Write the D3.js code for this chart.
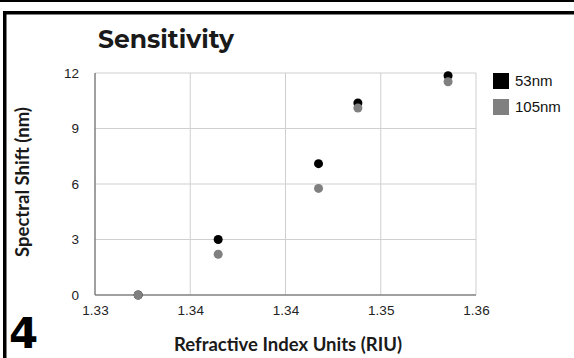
<!DOCTYPE html>
<html>
<head>
<meta charset="utf-8">
<script src="https://cdn.jsdelivr.net/npm/d3@7"></script>
<style>
  body { margin: 0; background: #fff; }
  svg { display: block; }
  .tick text { font-family: "Liberation Sans", Arial, sans-serif; font-size: 13.5px; fill: #222; }
</style>
</head>
<body>
<script>
// data
var seriesNames = ["53nm", "105nm"];
var seriesColors = ["#000000", "#808080"];
var riu = [1.3334, 1.3397, 1.3476, 1.3507, 1.3578];
var shift53 = [0, 3.0, 7.1, 10.38, 11.85];
var shift105 = [0, 2.2, 5.76, 10.11, 11.53];
var xTicks = [1.33, 1.3375, 1.345, 1.3525, 1.36];
var yTicks = [0, 3, 6, 9, 12];

var W = 574, H = 358;
var margin = { left: 95, right: 98, top: 73, bottom: 63 };
var width = W - margin.left - margin.right,
    height = H - margin.top - margin.bottom;

var svg = d3.select("body").append("svg")
    .attr("width", W)
    .attr("height", H);

// frame bits
svg.append("rect").attr("x", 0).attr("y", 0).attr("width", W).attr("height", 2).attr("fill", "#000");
svg.append("rect").attr("x", 3).attr("y", 11).attr("width", W - 3).attr("height", 3.5).attr("fill", "#000");
svg.append("rect").attr("x", 3).attr("y", 11).attr("width", 3.5).attr("height", H - 11).attr("fill", "#000");

var g = svg.append("g")
    .attr("transform", "translate(" + margin.left + "," + margin.top + ")");

var xScale = d3.scaleLinear().domain([1.33, 1.36]).range([0, width]);
var yScale = d3.scaleLinear().domain([0, 12]).range([height, 0]);

// gridlines
g.append("g")
    .attr("class", "grid")
    .selectAll("line.gx")
    .data(xTicks.slice(1))
    .enter().append("line")
    .attr("x1", function (d) { return xScale(d); })
    .attr("x2", function (d) { return xScale(d); })
    .attr("y1", 0).attr("y2", height)
    .attr("stroke", "#cfcfcf").attr("stroke-width", 1);

g.append("g")
    .attr("class", "grid")
    .selectAll("line.gy")
    .data(yTicks.slice(1))
    .enter().append("line")
    .attr("x1", 0).attr("x2", width)
    .attr("y1", function (d) { return yScale(d); })
    .attr("y2", function (d) { return yScale(d); })
    .attr("stroke", "#cfcfcf").attr("stroke-width", 1);

// axes
var xAxis = d3.axisBottom(xScale).tickValues(xTicks).tickSize(0).tickPadding(10)
    .tickFormat(d3.format(".2f"));
var yAxis = d3.axisLeft(yScale).tickValues(yTicks).tickSize(0).tickPadding(16);

var gx = g.append("g")
    .attr("transform", "translate(0," + height + ")")
    .call(xAxis);
gx.select(".domain").remove();

var gy = g.append("g").call(yAxis);
gy.select(".domain").remove();

g.append("line").attr("x1", 0).attr("x2", width).attr("y1", height).attr("y2", height)
    .attr("stroke", "#808080").attr("stroke-width", 1.5);
g.append("line").attr("x1", 0).attr("x2", 0).attr("y1", 0).attr("y2", height)
    .attr("stroke", "#808080").attr("stroke-width", 1.5);

// points: 53nm first, 105nm on top
var series = [shift53, shift105];
series.forEach(function (vals, i) {
    g.selectAll(".pt" + i)
        .data(vals)
        .enter().append("circle")
        .attr("class", "pt" + i)
        .attr("cx", function (d, j) { return xScale(riu[j]); })
        .attr("cy", function (d) { return yScale(d); })
        .attr("r", 4.5)
        .attr("fill", seriesColors[i]);
});

// legend
var legend = svg.append("g").attr("transform", "translate(493,73)");
seriesNames.forEach(function (name, i) {
    legend.append("rect")
        .attr("x", 0).attr("y", i * 26)
        .attr("width", 16).attr("height", 16)
        .attr("fill", seriesColors[i]);
    legend.append("text")
        .attr("x", 22).attr("y", i * 26 + 8)
        .attr("dy", "0.35em")
        .style("font-family", "Liberation Sans, Arial, sans-serif")
        .style("font-size", "15px")
        .attr("fill", "#111")
        .text(name);
});

// title
svg.append("text")
    .attr("x", 98).attr("y", 48)
    .style("font-family", "Montserrat, 'Open Sans', sans-serif")
    .style("font-weight", "700")
    .style("font-size", "25px")
    .attr("fill", "#1a1a1a")
    .text("Sensitivity");

// axis titles
svg.append("text")
    .attr("x", 288).attr("y", 351)
    .style("text-anchor", "middle")
    .style("font-family", "Lato, sans-serif")
    .style("font-weight", "700")
    .style("font-size", "18.5px")
    .attr("fill", "#1a1a1a")
    .text("Refractive Index Units (RIU)");

svg.append("text")
    .attr("transform", "translate(29,182) rotate(-90)")
    .style("text-anchor", "middle")
    .style("font-family", "Lato, sans-serif")
    .style("font-weight", "700")
    .style("font-size", "18.5px")
    .attr("fill", "#1a1a1a")
    .text("Spectral Shift (nm)");

// panel number
svg.append("text")
    .attr("x", 9).attr("y", 347.5)
    .style("font-family", "'DejaVu Sans', sans-serif")
    .style("font-weight", "900")
    .style("font-size", "42px")
    .attr("fill", "#000")
    .text("4");
</script>
</body>
</html>
